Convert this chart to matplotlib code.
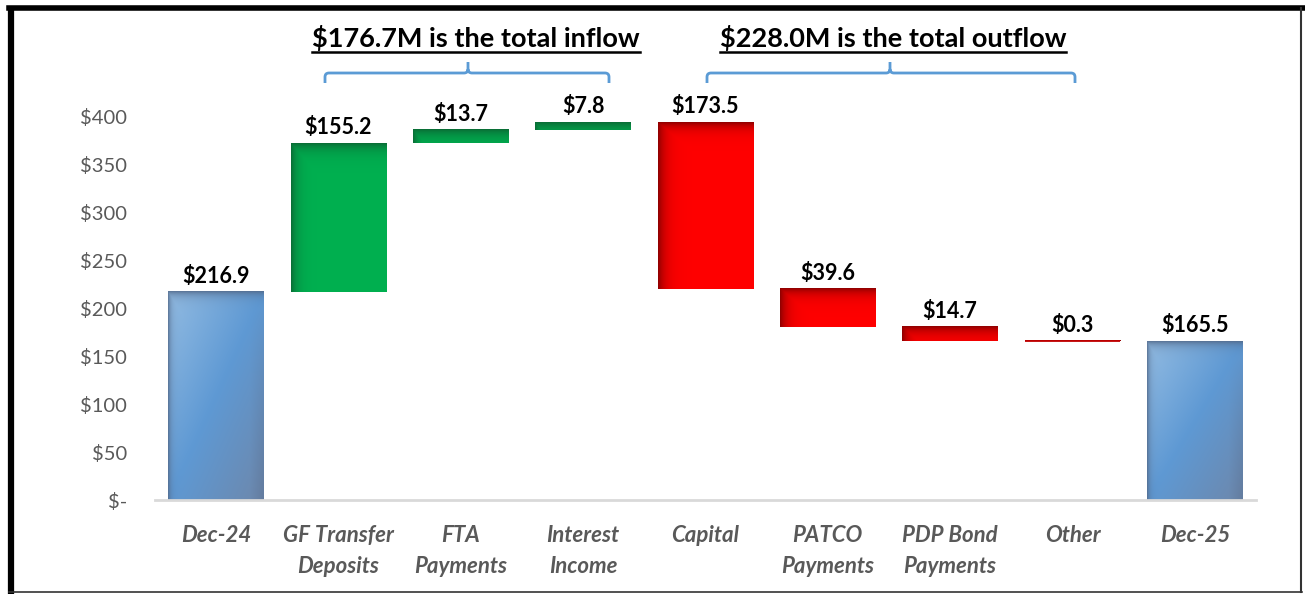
import numpy as np
import matplotlib
matplotlib.use("Agg")
import matplotlib.pyplot as plt
from matplotlib.lines import Line2D
from matplotlib.path import Path
from matplotlib.patches import PathPatch
from matplotlib.ticker import FuncFormatter

# cash flow Dec-24 -> Dec-25 ($M)
categories = ["Dec-24", "GF Transfer\nDeposits", "FTA\nPayments", "Interest\nIncome",
              "Capital", "PATCO\nPayments", "PDP Bond\nPayments", "Other", "Dec-25"]
start_balance = 216.9
inflows = [155.2, 13.7, 7.8]
outflows = [173.5, 39.6, 14.7, 0.3]
end_balance = 165.5
total_inflow = "$176.7M is the total inflow"
total_outflow = "$228.0M is the total outflow"

plt.rcParams['font.family'] = ['Lato', 'DejaVu Sans']

fig = plt.figure(figsize=(13.05, 5.94), dpi=100)
W, H = 1305, 594
ax = fig.add_axes([154.8 / W, 94 / H, 1101.2 / W, 384 / H])

# waterfall bottoms / heights
bottoms, heights, kinds = [0], [start_balance], ["total"]
level = start_balance
for v in inflows:
    bottoms.append(level); heights.append(v); kinds.append("in")
    level += v
for v in outflows:
    level -= v
    bottoms.append(level); heights.append(v); kinds.append("out")
bottoms.append(0); heights.append(end_balance); kinds.append("total")

x = np.arange(len(categories))
bars = ax.bar(x, heights, bottom=bottoms, width=0.78, color="none", edgecolor="none")

px_per_unit = 384 / 400.0
bar_px = 0.78 * 1101.2 / 9


def blue_base(u, v):
    t = 0.5 * u + 0.5 * v
    stops = [0, 0.5, 1]
    cols = np.array([[0.58, 0.74, 0.89], [0.37, 0.60, 0.83], [0.43, 0.53, 0.67]])
    return np.stack([np.interp(t, stops, cols[:, k]) for k in range(3)], axis=-1)


def flat(c):
    c = np.array(matplotlib.colors.to_rgb(c))
    return lambda u, v: np.ones(np.broadcast(u, v).shape + (3,)) * c


styles = {
    "total": (blue_base, "#52698A", 3.0, 5.0, 0.9),
    "in": (flat("#00B050"), "#0A6B35", 6.0, 7.0, 1.0),
    "out": (flat("#FF0000"), "#8B0000", 7.0, 6.0, 1.0),
}

for b, kind in zip(bars, kinds):
    base_fn, dark, left_px, top_px, strength = styles[kind]
    x0, y0, w, h = b.get_x(), b.get_y(), b.get_width(), b.get_height()
    rows = max(int(round(h * px_per_unit)), 1)
    cols = int(bar_px)
    yy = np.arange(rows)[:, None] + 0.5
    xx = np.arange(cols)[None, :] + 0.5
    base = base_fn(xx / cols + 0 * yy, yy / rows + 0 * xx)
    a = np.maximum(np.exp(-xx / left_px), np.exp(-yy / top_px)) * strength
    if kind == "total":
        a = np.maximum(a, np.clip((xx / cols - 0.85) * 2.5, 0, 0.35) * (yy / rows))
    dk = np.array(matplotlib.colors.to_rgb(dark))
    img = base * (1 - a[..., None]) + dk * a[..., None]
    ax.imshow(img, extent=(x0, x0 + w, y0, y0 + h), aspect="auto",
              interpolation="bilinear", zorder=2)
    if rows < 2:
        ax.hlines(y0 + h / 2, x0, x0 + w, color="#C00000", lw=1.3, zorder=3)
    ax.text(x0 + w / 2, y0 + h + 5, f"${h:.1f}", ha="center", va="bottom",
            fontsize=15.5, fontweight="bold", color="black", zorder=4)

ax.set_xlim(-0.5, len(categories) - 0.5)
ax.set_ylim(0, 400)
ax.set_yticks(np.arange(0, 401, 50))
ax.yaxis.set_major_formatter(FuncFormatter(lambda v, p: "$-" if v == 0 else f"${v:.0f}"))
ax.set_xticks(x)
ax.set_xticklabels(categories, fontstyle="italic", fontweight="bold", fontsize=16,
                   color="#595959", linespacing=1.6)
ax.tick_params(axis="y", length=0, pad=20, labelsize=14.5, labelcolor="#595959")
ax.tick_params(axis="x", length=0, pad=18)
for s in ["top", "right", "left"]:
    ax.spines[s].set_visible(False)
ax.spines["bottom"].set_color("#D9D9D9")
ax.spines["bottom"].set_linewidth(2)
ax.patch.set_alpha(0)

# headers with underline
fig.canvas.draw()
rend = fig.canvas.get_renderer()
for txt, cx in [(total_inflow, 476), (total_outflow, 893)]:
    t = fig.text(cx / W, 1 - 38 / H, txt, ha="center", va="center",
                 fontsize=19.5, fontweight="bold", color="black")
    bb = t.get_window_extent(rend)
    yline = 1 - 52 / H
    fig.add_artist(Line2D([bb.x0 / W, bb.x1 / W], [yline, yline], color="black", lw=1.8))


def brace(x0, xc, x1):
    yh, yend, ytop, r = 73, 83, 62, 4
    verts = [(x0, yend), (x0, yh + r), (x0, yh), (x0 + r, yh),
             (xc - r, yh), (xc, yh), (xc, yh - r), (xc, ytop),
             (xc, yh - r), (xc, yh), (xc + r, yh),
             (x1 - r, yh), (x1, yh), (x1, yh + r), (x1, yend)]
    codes = [Path.MOVETO, Path.LINETO, Path.CURVE3, Path.CURVE3,
             Path.LINETO, Path.CURVE3, Path.CURVE3, Path.LINETO,
             Path.MOVETO, Path.CURVE3, Path.CURVE3,
             Path.LINETO, Path.CURVE3, Path.CURVE3, Path.LINETO]
    verts = [(vx / W, 1 - vy / H) for vx, vy in verts]
    fig.add_artist(PathPatch(Path(verts, codes), fill=False, edgecolor="#5B9BD5",
                             lw=2, transform=fig.transFigure))


brace(325, 468, 609)
brace(707, 890, 1075)

# frame around the picture
fig.add_artist(Line2D([11 / W, 11 / W], [1 - 12 / H, 1 - 593 / H], color="black", lw=4.5))
fig.add_artist(Line2D([9 / W, 1303 / W], [1 - 8 / H, 1 - 8 / H], color="black", lw=4))
fig.add_artist(Line2D([1301 / W, 1301 / W], [1 - 8 / H, 1 - 592 / H], color="#333333", lw=1.5))
fig.add_artist(Line2D([9 / W, 1302 / W], [1 - 591.5 / H, 1 - 591.5 / H], color="#333333", lw=1.2))

fig.savefig("out.png", dpi=100)
